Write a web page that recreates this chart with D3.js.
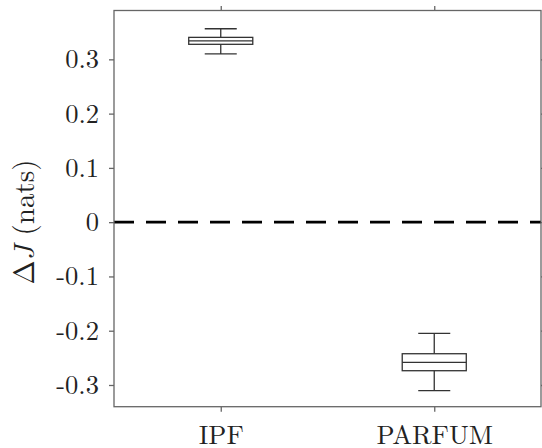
<!DOCTYPE html>
<html>
<head>
<meta charset="utf-8">
<script src="https://cdn.jsdelivr.net/npm/d3@7"></script>
<style>
  html, body { margin: 0; padding: 0; background: #fff; }
  svg { display: block; }
</style>
</head>
<body>
<svg id="chart" width="542" height="448"></svg>
<script>
// Box-plot summary per method (ΔJ in nats)
const categories = ["IPF", "PARFUM"];
const whiskerLow = [0.310, -0.3105];
const q1 = [0.3277, -0.2737];
const median = [0.334, -0.2582];
const q3 = [0.3405, -0.2424];
const whiskerHigh = [0.3564, -0.2048];
const yTicks = [-0.3, -0.2, -0.1, 0, 0.1, 0.2, 0.3];
const referenceLevel = 0;

const serif = '"Latin Modern Roman", "Liberation Serif", serif';
const tickFont = 26.5;
const svg = d3.select("#chart");
const plot = { left: 114, right: 541, top: 10.5, bottom: 406.7 };

const x = d3.scaleLinear().domain([0.5, categories.length + 0.5]).range([plot.left, plot.right]);
const y = d3.scaleLinear().domain([-0.34, 0.39]).range([plot.bottom, plot.top]);

const axisColor = "#666";
const boxColor = "#333";
const boxHalf = 0.15, capHalf = 0.075;
const catPos = categories.map((c, i) => i + 1);

// Axes
const fmt = d => d === 0 ? "0" : d.toFixed(1);
const styleAxis = g => {
  g.attr("font-family", null).attr("font-size", null);
  g.selectAll("path.domain").remove();
  g.selectAll(".tick line").attr("stroke", axisColor).attr("stroke-width", 1.3);
  g.selectAll(".tick text").attr("fill", "#222")
    .style("font-family", serif).style("font-size", tickFont + "px");
};

svg.append("g").attr("transform", `translate(${plot.left},0)`)
  .call(d3.axisLeft(y).tickValues(yTicks).tickFormat(fmt).tickSize(5).tickPadding(10))
  .call(styleAxis)
  .call(g => g.selectAll(".tick text").attr("dy", "0.32em"));

svg.append("g").attr("transform", `translate(${plot.right},0)`)
  .call(d3.axisRight(y).tickValues(yTicks).tickFormat("").tickSize(5))
  .call(styleAxis);

svg.append("g").attr("transform", `translate(0,${plot.bottom})`)
  .call(d3.axisBottom(x).tickValues(catPos).tickFormat((d, i) => categories[i]).tickSize(5).tickPadding(13))
  .call(styleAxis);

svg.append("g").attr("transform", `translate(0,${plot.top})`)
  .call(d3.axisTop(x).tickValues(catPos).tickFormat("").tickSize(4.5))
  .call(styleAxis);

// Reference line at zero
svg.append("line")
  .attr("x1", x(0.5)).attr("x2", x(categories.length + 0.5))
  .attr("y1", y(referenceLevel)).attr("y2", y(referenceLevel))
  .attr("stroke", "#000").attr("stroke-width", 2.6)
  .attr("stroke-dasharray", "20,12");

// Box plots
const boxes = svg.append("g").attr("fill", "none").attr("stroke", boxColor).attr("stroke-width", 1.3);
catPos.forEach((p, i) => {
  const g = boxes.append("g");
  // whiskers
  g.append("line").attr("x1", x(p)).attr("x2", x(p)).attr("y1", y(q3[i])).attr("y2", y(whiskerHigh[i]));
  g.append("line").attr("x1", x(p)).attr("x2", x(p)).attr("y1", y(q1[i])).attr("y2", y(whiskerLow[i]));
  // caps
  g.append("line").attr("x1", x(p - capHalf)).attr("x2", x(p + capHalf)).attr("y1", y(whiskerHigh[i])).attr("y2", y(whiskerHigh[i]));
  g.append("line").attr("x1", x(p - capHalf)).attr("x2", x(p + capHalf)).attr("y1", y(whiskerLow[i])).attr("y2", y(whiskerLow[i]));
  // box
  g.append("rect")
    .attr("x", x(p - boxHalf)).attr("width", x(p + boxHalf) - x(p - boxHalf))
    .attr("y", y(q3[i])).attr("height", y(q1[i]) - y(q3[i]));
  // median
  g.append("line").attr("x1", x(p - boxHalf)).attr("x2", x(p + boxHalf)).attr("y1", y(median[i])).attr("y2", y(median[i]));
});

// Frame
svg.append("rect")
  .attr("x", plot.left).attr("y", plot.top)
  .attr("width", plot.right - plot.left).attr("height", plot.bottom - plot.top)
  .attr("fill", "none").attr("stroke", axisColor).attr("stroke-width", 1.3);

// Y label
const yl = svg.append("text")
  .attr("transform", `translate(34,222) rotate(-90)`)
  .attr("text-anchor", "middle")
  .attr("fill", "#222")
  .style("font-family", serif)
  .style("font-size", "29px");
yl.append("tspan").text("Δ");
yl.append("tspan").style("font-style", "italic").text("J");
yl.append("tspan").text(" (nats)");
</script>
</body>
</html>
